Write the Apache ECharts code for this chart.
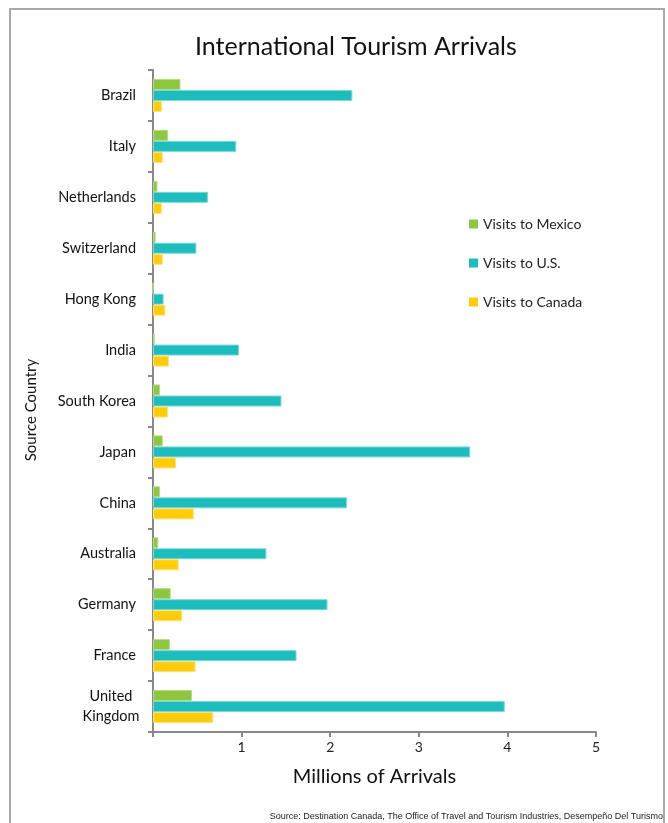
<!DOCTYPE html>
<html><head><meta charset="utf-8">
<script src="https://cdn.jsdelivr.net/npm/echarts@6/dist/echarts.min.js"></script>
<style>html,body{margin:0;padding:0;background:#fff}#c{width:668px;height:823px}</style>
</head><body><div id="c"></div>
<script>
const categories = ['Brazil','Italy','Netherlands','Switzerland','Hong Kong','India','South Korea','Japan','China','Australia','Germany','France','United\nKingdom'];
const mexico = [0.31,0.17,0.05,0.03,0.00,0.02,0.08,0.11,0.08,0.06,0.20,0.19,0.44];
const us =     [2.25,0.94,0.62,0.49,0.12,0.97,1.45,3.58,2.19,1.28,1.97,1.62,3.97];
const canada = [0.10,0.11,0.10,0.11,0.14,0.18,0.17,0.26,0.46,0.29,0.33,0.48,0.68];
const seriesNames = ['Visits to Mexico','Visits to U.S.','Visits to Canada'];

const font = 'Lato, "Noto Sans", sans-serif';
const chart = echarts.init(document.getElementById('c'), null, {renderer:'canvas'});
const mk = (name, data, color, border) => ({
  name, type:'bar', data, barGap:'0%', barCategoryGap:'35%',
  itemStyle:{color, borderColor:border, borderWidth:1},
  emphasis:{disabled:true}, animation:false
});
chart.setOption({
  animation:false,
  title:{text:'International Tourism Arrivals', left:190, top:29,
    textStyle:{fontFamily:font, fontSize:25, fontWeight:'normal', color:'#111'}},
  graphic:[{type:'rect', shape:{x:10,y:9,width:654,height:830},
    style:{fill:'none', stroke:'#a8a8a8', lineWidth:2}, silent:true},
    {type:'text', x:31, y:410, rotation:Math.PI/2, silent:true,
      style:{text:'Source Country', font:'15px Lato, "Noto Sans", sans-serif', fill:'#111',
        align:'center', verticalAlign:'middle'}},
    {type:'text', right:5, top:812, silent:true, style:{text:'Source: Destination Canada, The Office of Travel and Tourism Industries, Desempeño Del Turismo',
      font:'9px "Liberation Sans", sans-serif', fill:'#222'}}],
  legend:{orient:'vertical', left:464, top:212, itemWidth:9, itemHeight:9, itemGap:25,
    icon:'rect', data:seriesNames, itemStyle:{borderWidth:0},
    textStyle:{fontFamily:font, fontSize:14, color:'#222'}},
  grid:{left:153, right:72, top:70, bottom:91},
  xAxis:{type:'value', min:0, max:5, interval:1,
    name:'Millions of Arrivals', nameLocation:'middle', nameGap:35,
    nameTextStyle:{fontFamily:font, fontSize:20, color:'#111'},
    axisLine:{show:true, lineStyle:{color:'#888', width:2}},
    axisTick:{show:true, length:5, lineStyle:{color:'#888', width:2}},
    splitLine:{show:false},
    axisLabel:{fontFamily:font, fontSize:14, color:'#222', margin:8,
      formatter:v=> v===0 ? '' : String(v)}},
  yAxis:{type:'category', data:categories, inverse:true,
    axisLine:{show:true, lineStyle:{color:'#888', width:2}},
    axisTick:{show:true, length:5, lineStyle:{color:'#888', width:2}},
    axisLabel:{fontFamily:font, fontSize:14.5, color:'#111', margin:17, lineHeight:20,
      formatter:v=> v.indexOf('\n') >= 0 ? v.split('\n').map(s=>'{c|'+s+'}').join('\n') : v,
      rich:{c:{width:50, align:'center', fontFamily:font, fontSize:14.5, color:'#111', lineHeight:20}}}},
  series:[
    mk(seriesNames[0], mexico, '#8DC63F', '#b5dc86'),
    mk(seriesNames[1], us, '#1DBDBD', '#7fd9d9'),
    mk(seriesNames[2], canada, '#FFCC0A', '#ffe27a')
  ]
});
</script></body></html>
